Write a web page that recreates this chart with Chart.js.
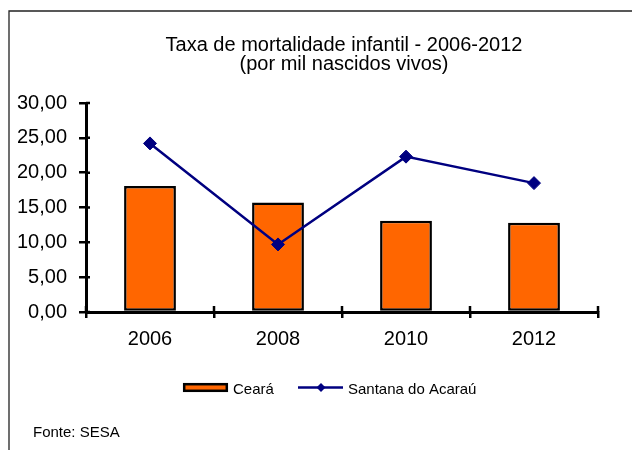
<!DOCTYPE html>
<html lang="pt">
<head>
  <meta charset="utf-8">
  <title>Taxa de mortalidade infantil</title>
  <script src="https://cdn.jsdelivr.net/npm/chart.js"></script>
  <style>
    html, body { margin: 0; padding: 0; background: #fff; }
    .wrap { width: 632px; height: 450px; }
  </style>
</head>
<body>
<div class="wrap">
  <canvas id="chart" width="632" height="450"></canvas>
</div>
<script>
  // data
  const years = ['2006', '2008', '2010', '2012'];
  const ceara = [18.1, 15.7, 13.1, 12.8];
  const santana = [24.2, 9.7, 22.3, 18.5];
  const yTicks = [0, 5, 10, 15, 20, 25, 30];
  const titleLines = ['Taxa de mortalidade infantil - 2006-2012', '(por mil nascidos vivos)'];
  const sourceText = 'Fonte: SESA';

  const FONT = '"Liberation Sans", Arial, sans-serif';

  // frame, title, legend, source and the small tick extensions
  const decorations = {
    id: 'decorations',
    beforeDraw(chart) {
      const { ctx } = chart;
      ctx.save();
      ctx.strokeStyle = '#222';
      ctx.lineWidth = 1.3;
      ctx.beginPath();
      ctx.moveTo(9, 450);
      ctx.lineTo(9, 11);
      ctx.lineTo(632, 11);
      ctx.stroke();
      ctx.restore();
    },
    afterDraw(chart) {
      const { ctx, scales: { x, y } } = chart;
      ctx.save();
      ctx.fillStyle = '#000';
      ctx.textAlign = 'center';
      ctx.textBaseline = 'alphabetic';
      ctx.font = '20px ' + FONT;
      ctx.fillText(titleLines[0], 344, 51);
      ctx.fillText(titleLines[1], 344, 70);

      // tick marks crossing the axes
      ctx.strokeStyle = '#000';
      ctx.lineWidth = 2.5;
      ctx.beginPath();
      yTicks.forEach(v => {
        const py = y.getPixelForValue(v);
        ctx.moveTo(x.left, py);
        ctx.lineTo(x.left + 4, py);
      });
      for (let i = 0; i <= years.length; i++) {
        const px = x.left + (x.right - x.left) * i / years.length;
        ctx.moveTo(px, y.bottom);
        ctx.lineTo(px, y.bottom - 6);
      }
      ctx.stroke();

      // legend
      const bar = chart.data.datasets[0];
      const line = chart.data.datasets[1];
      ctx.fillStyle = bar.backgroundColor;
      ctx.fillRect(183, 383, 45, 9);
      ctx.strokeStyle = '#000';
      ctx.lineWidth = 2.5;
      ctx.strokeRect(184.2, 384.2, 42.6, 6.6);
      ctx.font = '15px ' + FONT;
      ctx.textAlign = 'left';
      ctx.fillStyle = '#000';
      ctx.fillText(bar.label, 233, 394);

      ctx.strokeStyle = line.borderColor;
      ctx.lineWidth = 2.5;
      ctx.beginPath();
      ctx.moveTo(298, 387.5);
      ctx.lineTo(343, 387.5);
      ctx.stroke();
      ctx.fillStyle = line.borderColor;
      ctx.beginPath();
      ctx.moveTo(321, 383);
      ctx.lineTo(325.5, 387.5);
      ctx.lineTo(321, 392);
      ctx.lineTo(316.5, 387.5);
      ctx.closePath();
      ctx.fill();
      ctx.fillStyle = '#000';
      ctx.fillText(line.label, 348, 394);

      ctx.fillText(sourceText, 33, 437);
      ctx.restore();
    }
  };

  new Chart(document.getElementById('chart'), {
    type: 'bar',
    data: {
      labels: years,
      datasets: [{
        label: 'Ceará',
        data: ceara,
        backgroundColor: '#FF6600',
        borderColor: '#000',
        borderWidth: 2.5,
        borderSkipped: false,
        barPercentage: 0.405,
        categoryPercentage: 1,
        order: 2
      }, {
        type: 'line',
        label: 'Santana do Acaraú',
        data: santana,
        borderColor: '#000080',
        backgroundColor: '#000080',
        borderWidth: 2.5,
        pointStyle: 'rectRot',
        pointRadius: 6.5,
        pointBorderWidth: 1,
        pointBackgroundColor: '#000080',
        tension: 0,
        order: 1
      }]
    },
    options: {
      responsive: false,
      animation: false,
      events: [],
      layout: { padding: { left: 0, right: 34, top: 103, bottom: 0 } },
      plugins: {
        legend: { display: false },
        title: { display: false },
        tooltip: { enabled: false }
      },
      scales: {
        x: {
          offset: true,
          grid: {
            offset: true,
            drawOnChartArea: false,
            color: '#000',
            lineWidth: 2.5,
            tickLength: 6
          },
          border: { display: true, color: '#000', width: 3 },
          ticks: {
            color: '#000',
            padding: 9,
            font: { family: FONT, size: 20 }
          },
          afterFit(scale) { scale.height = 138; }
        },
        y: {
          min: 0,
          max: 30,
          afterBuildTicks(scale) { scale.ticks = yTicks.map(v => ({ value: v })); },
          grid: {
            drawOnChartArea: false,
            color: '#000',
            lineWidth: 2.5,
            tickLength: 7
          },
          border: { display: true, color: '#000', width: 3 },
          ticks: {
            color: '#000',
            padding: 12,
            font: { family: FONT, size: 20 },
            callback: v => v.toFixed(2).replace('.', ',')
          },
          afterFit(scale) { scale.width = 86; }
        }
      }
    },
    plugins: [decorations]
  });
</script>
</body>
</html>
